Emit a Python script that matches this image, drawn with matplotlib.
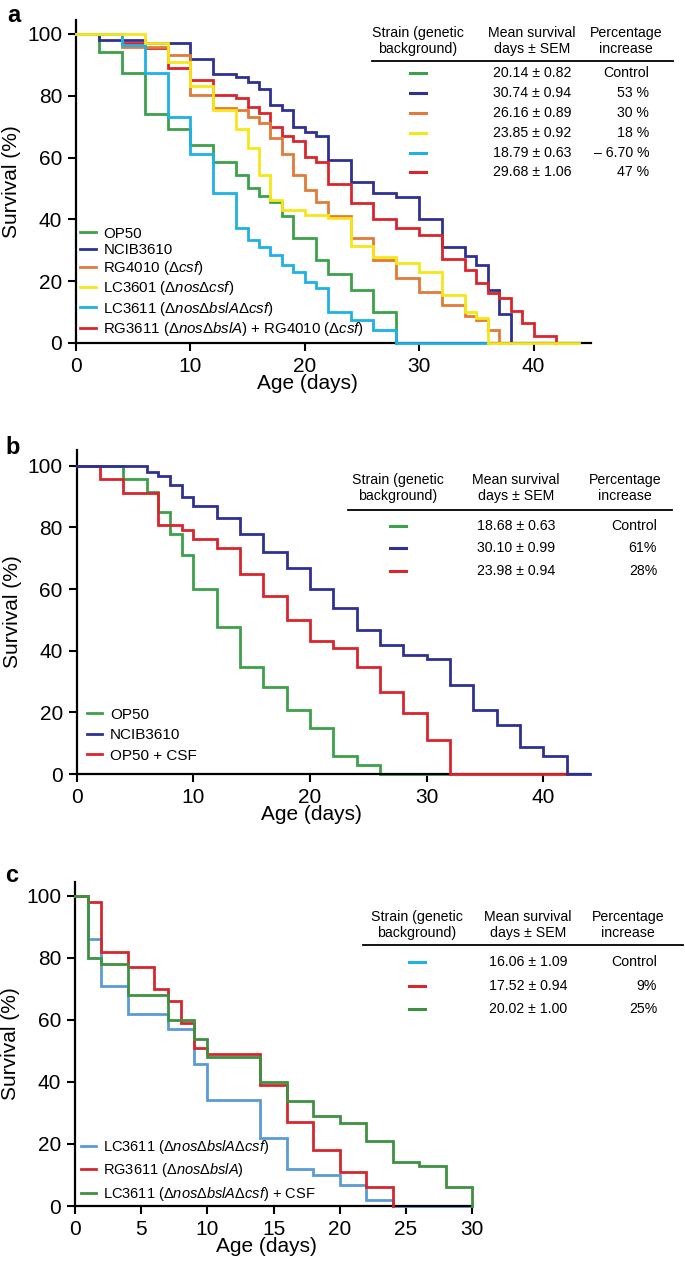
import matplotlib
matplotlib.use("Agg")
import matplotlib.pyplot as plt
from matplotlib.lines import Line2D

plt.rcParams['font.family'] = ['Liberation Sans', 'DejaVu Sans']
plt.rcParams['mathtext.fontset'] = 'custom'
plt.rcParams['mathtext.rm'] = 'Liberation Sans'
plt.rcParams['mathtext.it'] = 'Liberation Sans:italic'

W, H = 685, 1271

# ---- panel a data (day, % surviving) ----
a_labels = ['OP50', 'NCIB3610', 'RG4010 (Δ$\\mathit{csf}$)',
            'LC3601 (Δ$\\mathit{nos}$Δ$\\mathit{csf}$)',
            'LC3611 (Δ$\\mathit{nos}$Δ$\\mathit{bslA}$Δ$\\mathit{csf}$)',
            'RG3611 (Δ$\\mathit{nos}$Δ$\\mathit{bslA}$) + RG4010 (Δ$\\mathit{csf}$)']
a_colors = ['#3da04a', '#2e3192', '#e07b39', '#f7e617', '#1fb1e6', '#d9262c']
a_days = [
    [0, 2, 4, 6, 8, 10, 12, 14, 15, 16, 17, 18, 19, 21, 22, 24, 26, 28],
    [0, 2, 6, 10, 12, 14, 15, 16, 17, 18, 19, 20, 21, 22, 24, 26, 28, 30, 32, 34, 35, 36, 37, 38],
    [0, 4, 8, 10, 12, 14, 15, 16, 17, 18, 19, 20, 21, 22, 24, 26, 28, 30, 32, 34, 35, 36, 37],
    [0, 6, 8, 10, 12, 14, 15, 16, 17, 18, 20, 22, 24, 26, 28, 30, 32, 34, 35, 36, 44],
    [0, 4, 6, 8, 10, 12, 14, 15, 16, 17, 18, 19, 20, 21, 22, 24, 26, 28, 36],
    [0, 4, 6, 8, 10, 12, 14, 15, 16, 17, 18, 19, 20, 21, 22, 24, 26, 28, 30, 32, 34, 35, 36, 37, 38, 39, 40, 42],
]
a_surv = [
    [100, 94.1, 87.3, 74, 69.1, 64.2, 58.4, 54.4, 50.3, 47.4, 45.7, 41, 34, 27, 22.2, 17.2, 10.1, 0],
    [100, 97.9, 97, 92, 87.1, 86.2, 84.4, 82.1, 77, 75.4, 70, 68.4, 67, 59.3, 52.1, 48.4, 47.3, 40.1, 31.2, 28.2, 25.2, 17.2, 9.4, 0],
    [100, 95.8, 93.2, 80.3, 75.9, 75.4, 73, 71.3, 66.2, 61.2, 54.2, 49.5, 45.5, 41.2, 34, 27, 21, 16.6, 12.3, 8.7, 7.4, 4.2, 0],
    [100, 97, 91, 83, 75.4, 69.1, 63, 54.4, 46.3, 43, 41.4, 40.3, 31.5, 27.9, 26, 23.1, 15.5, 10.1, 8, 0, 0],
    [100, 96.4, 87.3, 73, 61.2, 48.4, 37.1, 33.3, 31.2, 28.5, 25.2, 23.1, 19.8, 17.7, 10.1, 7.4, 4.2, 0, 0],
    [100, 97, 95.5, 89, 85.1, 80.3, 79.2, 76.3, 74.3, 70, 67, 65.4, 60.3, 58.5, 51.6, 45.2, 40.1, 37.1, 35, 27.1, 23.6, 19.3, 16.3, 14.5, 10.2, 6.4, 2.3, 0],
]
a_zorder = [2, 3, 4, 6, 5, 3.5]
a_means = ['20.14 ± 0.82', '30.74 ± 0.94', '26.16 ± 0.89', '23.85 ± 0.92', '18.79 ± 0.63', '29.68 ± 1.06']
a_pct = ['Control', '53 %', '30 %', '18 %', '– 6.70 %', '47 %']

# ---- panel b data ----
b_labels = ['OP50', 'NCIB3610', 'OP50 + CSF']
b_colors = ['#3da04a', '#2e3192', '#d9262c']
b_days = [
    [0, 4, 6, 7, 8, 9, 10, 12, 14, 16, 18, 20, 22, 24, 26, 32],
    [0, 6, 7, 8, 9, 10, 12, 14, 16, 18, 20, 22, 24, 26, 28, 30, 32, 34, 36, 38, 40, 42, 44],
    [0, 2, 4, 7, 9, 10, 12, 14, 16, 18, 20, 22, 24, 26, 28, 30, 32, 42],
]
b_surv = [
    [100, 95.8, 91.5, 85, 78, 71, 59.9, 47.8, 34.8, 28.1, 20.7, 15, 5.9, 2.9, 0, 0],
    [100, 98, 96.6, 93.9, 89.9, 86.9, 82.9, 77.7, 71.9, 66.9, 59.9, 53.9, 46.7, 41.8, 38.6, 37.2, 28.8, 20.7, 15.9, 8.9, 5.8, 0, 0],
    [100, 95.8, 91, 80.7, 79.1, 76.1, 73.2, 65, 57.7, 49.9, 43, 41, 34.8, 26.7, 19.7, 11, 0, 0],
]
b_zorder = [2, 4, 3]
b_means = ['18.68 ± 0.63', '30.10 ± 0.99', '23.98 ± 0.94']
b_pct = ['Control', '61%', '28%']

# ---- panel c data ----
c_labels = ['LC3611 (Δ$\\mathit{nos}$Δ$\\mathit{bslA}$Δ$\\mathit{csf}$)',
            'RG3611 (Δ$\\mathit{nos}$Δ$\\mathit{bslA}$)',
            'LC3611 (Δ$\\mathit{nos}$Δ$\\mathit{bslA}$Δ$\\mathit{csf}$) + CSF']
c_colors = ['#5b9bd5', '#d3282e', '#3f9142']
c_key_colors = ['#1fb1e6', '#d3282e', '#3f9142']
c_days = [
    [0, 1, 2, 4, 7, 9, 10, 14, 16, 18, 20, 22, 24, 30],
    [0, 1, 2, 4, 6, 7, 8, 9, 10, 14, 16, 18, 20, 22, 24],
    [0, 1, 2, 4, 7, 9, 10, 14, 16, 18, 20, 22, 24, 26, 28, 30],
]
c_surv = [
    [100, 86, 71, 62, 57, 45.8, 34, 21.8, 11.9, 10, 6.8, 2, 0, 0],
    [100, 98.1, 81.8, 77, 70, 66, 58.9, 50.8, 48.9, 38.9, 27, 18, 11, 6, 0],
    [100, 79.8, 77.9, 67.9, 59.9, 53.9, 48.1, 40, 33.9, 29, 26.9, 20.8, 14.1, 13, 6, 0],
]
c_zorder = [2, 3, 4]
c_means = ['16.06 ± 1.09', '17.52 ± 0.94', '20.02 ± 1.00']
c_pct = ['Control', '9%', '25%']


def fx(px):
    return px / W


def fy(py):
    return 1 - py / H


fig = plt.figure(figsize=(W / 100, H / 100), dpi=100)


def make_axes(left, right, zero_y, top_y, xmax, ymax):
    ax = fig.add_axes([fx(left), fy(zero_y), (right - left) / W, (zero_y - top_y) / H])
    ax.set_xlim(0, xmax)
    ax.set_ylim(0, ymax)
    for s in ['top', 'right']:
        ax.spines[s].set_visible(False)
    for s in ['left', 'bottom']:
        ax.spines[s].set_linewidth(1.6)
    ax.tick_params(direction='out', length=6, width=1.5, labelsize=15, pad=4)
    ax.set_yticks([0, 20, 40, 60, 80, 100])
    ax.set_ylabel('Survival (%)', fontsize=15, labelpad=4)
    ax.set_xlabel('Age (days)', fontsize=15, labelpad=6)
    return ax


def draw_curves(ax, days, surv, colors, labels, zorders):
    for d, s, c, l, z in zip(days, surv, colors, labels, zorders):
        ax.plot(d, s, drawstyle='steps-post', color=c, lw=2.0, label=l, zorder=z,
                solid_joinstyle='miter', clip_on=False)


def draw_table(rows_y, head_y1, rule_y, rule_x0, rule_x1, col_key, col_mean, col_pct_c, pct_right,
               colors, means, pcts, fs=10.2):
    fig.text(fx(col_key), fy(head_y1), 'Strain (genetic\nbackground)', ha='center', va='center',
             fontsize=fs, linespacing=1.15)
    fig.text(fx(col_mean), fy(head_y1), 'Mean survival\ndays ± SEM', ha='center', va='center',
             fontsize=fs, linespacing=1.15)
    fig.text(fx(col_pct_c), fy(head_y1), 'Percentage\nincrease', ha='center', va='center',
             fontsize=fs, linespacing=1.15)
    fig.add_artist(Line2D([fx(rule_x0), fx(rule_x1)], [fy(rule_y), fy(rule_y)], color='black', lw=1.3))
    for y, c, m, p in zip(rows_y, colors, means, pcts):
        fig.add_artist(Line2D([fx(col_key - 8), fx(col_key + 8)], [fy(y), fy(y)], color=c, lw=2.2))
        fig.text(fx(col_mean), fy(y), m, ha='center', va='center', fontsize=fs)
        fig.text(fx(pct_right), fy(y), p, ha='right', va='center', fontsize=fs)


# ---------------- panel a ----------------
axA = make_axes(76, 590.8, 343, 20, 45, 104.5)
axA.set_xticks([0, 10, 20, 30, 40])
draw_curves(axA, a_days, a_surv, a_colors, a_labels, a_zorder)
axA.xaxis.set_label_coords(0.449, -0.095)
axA.legend(loc='lower left', bbox_to_anchor=(0.008, 0.016), frameon=False, fontsize=10.8,
           handlelength=1.05, handletextpad=0.5, labelspacing=0.15, borderpad=0, borderaxespad=0)
draw_table([73, 93, 113, 133, 153, 172], 41, 61, 372, 673, 418, 532, 626, 649,
           a_colors, a_means, a_pct)
fig.text(fx(14), fy(15), 'a', fontsize=17, fontweight='bold', ha='center', va='center')

# ---------------- panel b ----------------
axB = make_axes(76.7, 590, 774, 450, 44, 105.1)
axB.set_xticks([0, 10, 20, 30, 40])
draw_curves(axB, b_days, b_surv, b_colors, b_labels, b_zorder)
axB.xaxis.set_label_coords(0.458, -0.095)
axB.legend(loc='lower left', bbox_to_anchor=(0.02, 0.035), frameon=False, fontsize=11,
           handlelength=1.0, handletextpad=0.5, labelspacing=0.43, borderpad=0, borderaxespad=0)
draw_table([526, 548, 571], 488, 510, 348, 672, 398, 516, 625, 657,
           b_colors, b_means, b_pct)
fig.text(fx(13), fy(447), 'b', fontsize=17, fontweight='bold', ha='center', va='center')

# ---------------- panel c ----------------
axC = make_axes(75, 472, 1206, 881.7, 30, 104.5)
axC.set_xticks([0, 5, 10, 15, 20, 25, 30])
draw_curves(axC, c_days, c_surv, c_colors, c_labels, c_zorder)
axC.xaxis.set_label_coords(0.481, -0.095)
axC.legend(loc='lower left', bbox_to_anchor=(0.014, 0.01), frameon=False, fontsize=10.5,
           handlelength=1.05, handletextpad=0.5, labelspacing=0.38, borderpad=0, borderaxespad=0)
draw_table([962, 986, 1009], 925, 945, 363, 683, 417, 528, 628, 657,
           c_key_colors, c_means, c_pct)
fig.text(fx(12), fy(876), 'c', fontsize=17, fontweight='bold', ha='center', va='center')

fig.savefig('out.png', dpi=100)
